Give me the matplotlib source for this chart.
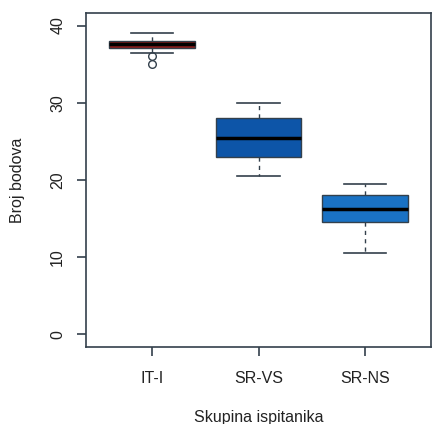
import matplotlib
matplotlib.use("Agg")
import matplotlib.pyplot as plt

plt.rcParams['font.family'] = ['Liberation Sans', 'DejaVu Sans']

# Box statistics
groups = ['IT-I', 'SR-VS', 'SR-NS']
whisker_low = [36.5, 20.5, 10.5]
q1 = [37.1, 23.0, 14.5]
median = [37.6, 25.5, 16.3]
q3 = [38.0, 28.0, 18.0]
whisker_high = [39.0, 30.0, 19.5]
outliers = [[36.0, 35.0], [], []]
fills = ['#8b1a1a', '#0d55a8', '#1a72c4']

stats = []
for i, g in enumerate(groups):
    stats.append(dict(label=g, whislo=whisker_low[i], q1=q1[i], med=median[i],
                      q3=q3[i], whishi=whisker_high[i], fliers=outliers[i]))

fig = plt.figure(figsize=(4.32, 4.24), dpi=100)
ax = fig.add_axes([0.199, 0.182, 0.799, 0.787])

edge = '#33404c'
bp = ax.bxp(stats, positions=[1, 2, 3], widths=0.8, patch_artist=True,
            boxprops=dict(edgecolor=edge, linewidth=1),
            medianprops=dict(color='black', linewidth=2.5),
            whiskerprops=dict(color=edge, linestyle=(0, (3, 3)), linewidth=1),
            capprops=dict(color=edge, linewidth=1.2),
            flierprops=dict(marker='o', markerfacecolor='none',
                            markeredgecolor=edge, markersize=5.5))
for patch, c in zip(bp['boxes'], fills):
    patch.set_facecolor(c)
for cap in bp['caps']:
    x = cap.get_xdata()
    mid = (x[0] + x[1]) / 2
    cap.set_xdata([mid - 0.2, mid + 0.2])

ax.set_xlim(0.38, 3.62)
ax.set_ylim(-1.6, 41.6)
ax.set_yticks([0, 10, 20, 30, 40])
ax.set_xticks([1, 2, 3])
ax.set_xticklabels(groups)

for s in ax.spines.values():
    s.set_color(edge)
    s.set_linewidth(1.2)
ax.tick_params(axis='both', direction='out', length=6.5, width=1.2,
               color=edge, labelsize=11.5, labelcolor='#222222')
ax.tick_params(axis='x', pad=11)
ax.tick_params(axis='y', pad=8.5)
for lab in ax.get_yticklabels():
    lab.set_rotation(90)
    lab.set_va('center')

ax.set_ylabel('Broj bodova', fontsize=11.5, color='#222222')
ax.set_xlabel('Skupina ispitanika', fontsize=11.5, color='#222222')
ax.yaxis.set_label_coords(-0.178, 0.5)
ax.xaxis.set_label_coords(0.5, -0.188)

fig.savefig('out.png', dpi=100)
